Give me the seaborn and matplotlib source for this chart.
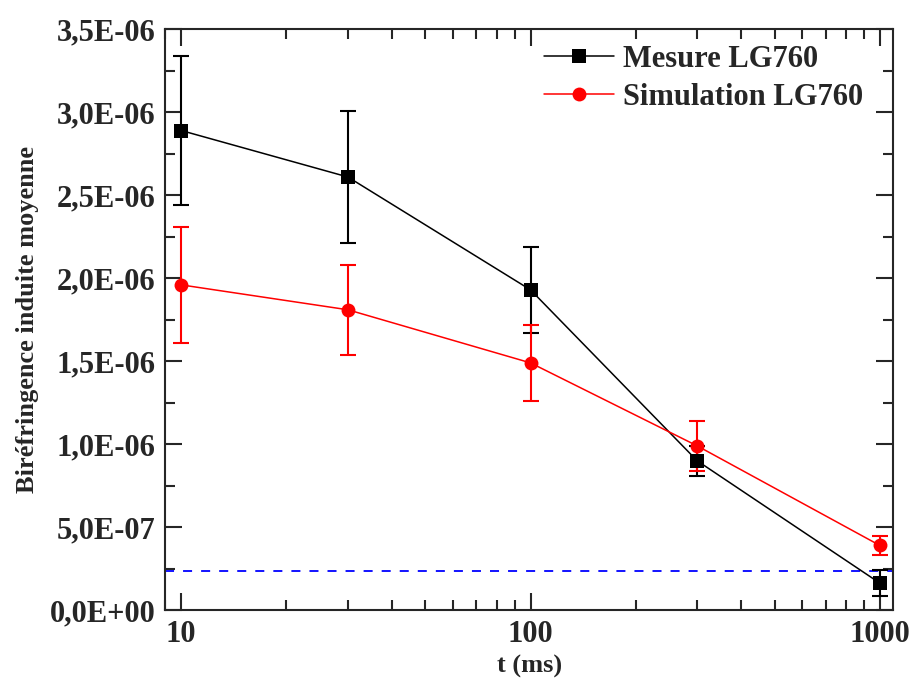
import numpy as np
import pandas as pd
import matplotlib
matplotlib.use("Agg")
import matplotlib.pyplot as plt
import seaborn as sns
from matplotlib.ticker import FuncFormatter, LogLocator, MultipleLocator, NullFormatter

# data
t_ms = [10, 30, 100, 300, 1000]
mesure = [2.89e-6, 2.61e-6, 1.93e-6, 0.90e-6, 0.163e-6]
mesure_err = [0.45e-6, 0.40e-6, 0.26e-6, 0.09e-6, 0.08e-6]
simul = [1.96e-6, 1.81e-6, 1.49e-6, 0.99e-6, 0.39e-6]
simul_err = [0.35e-6, 0.27e-6, 0.23e-6, 0.15e-6, 0.055e-6]
seuil = 0.235e-6

sns.set_style("ticks")
plt.rcParams["font.family"] = ["Liberation Serif", "DejaVu Serif"]
plt.rcParams["font.weight"] = "bold"

df = pd.DataFrame({
    "t": t_ms * 2,
    "val": mesure + simul,
    "serie": ["Mesure LG760"] * 5 + ["Simulation LG760"] * 5,
})

fig = plt.figure(figsize=(9.13, 6.81), dpi=100)
ax = fig.add_axes([0.181, 0.104, 0.797, 0.853])

ax.errorbar(t_ms, mesure, yerr=mesure_err, fmt="none", ecolor="black",
            elinewidth=1.5, capsize=6, capthick=1.5, zorder=2)
ax.errorbar(t_ms, simul, yerr=simul_err, fmt="none", ecolor="red",
            elinewidth=1.5, capsize=6, capthick=1.5, zorder=2)
sns.lineplot(data=df, x="t", y="val", hue="serie", style="serie",
             palette={"Mesure LG760": "black", "Simulation LG760": "red"},
             markers={"Mesure LG760": "s", "Simulation LG760": "o"},
             dashes=False, markersize=10, markeredgewidth=0, linewidth=1.1,
             ax=ax, zorder=3)
ax.axhline(seuil, color="blue", linestyle=(0, (5, 5)), linewidth=1.3, zorder=1)

ax.set_xscale("log")
ax.set_xlim(9.0, 1090)
ax.set_ylim(0, 3.5e-6)
ax.xaxis.set_major_locator(LogLocator(base=10))
ax.xaxis.set_minor_locator(LogLocator(base=10, subs=np.arange(2, 10)))
ax.xaxis.set_minor_formatter(NullFormatter())
ax.xaxis.set_major_formatter(FuncFormatter(lambda v, p: f"{v:g}"))
ax.yaxis.set_major_locator(MultipleLocator(0.5e-6))
ax.yaxis.set_minor_locator(MultipleLocator(0.25e-6))
ax.yaxis.set_major_formatter(FuncFormatter(lambda v, p: f"{v:.1E}".replace(".", ",")))

ax.tick_params(which="both", direction="in", top=True, right=True, width=1.5,
               labelsize=22, pad=7)
ax.tick_params(which="major", length=12)
ax.tick_params(which="minor", length=7)
for s in ax.spines.values():
    s.set_linewidth(1.5)
    s.set_visible(True)
for lab in ax.get_xticklabels() + ax.get_yticklabels():
    lab.set_fontweight("bold")

ax.set_xlabel("t (ms)", fontsize=19, fontweight="bold", labelpad=4)
ax.set_ylabel("Biréfringence induite moyenne", fontsize=19, fontweight="bold", labelpad=8)

leg = ax.legend(loc="upper right", bbox_to_anchor=(0.98, 1.0), frameon=False,
                handlelength=2.3, borderaxespad=0.1, labelspacing=0.3,
                handletextpad=0.3, prop={"weight": "bold", "size": 22})

fig.savefig("out.png", dpi=100)
